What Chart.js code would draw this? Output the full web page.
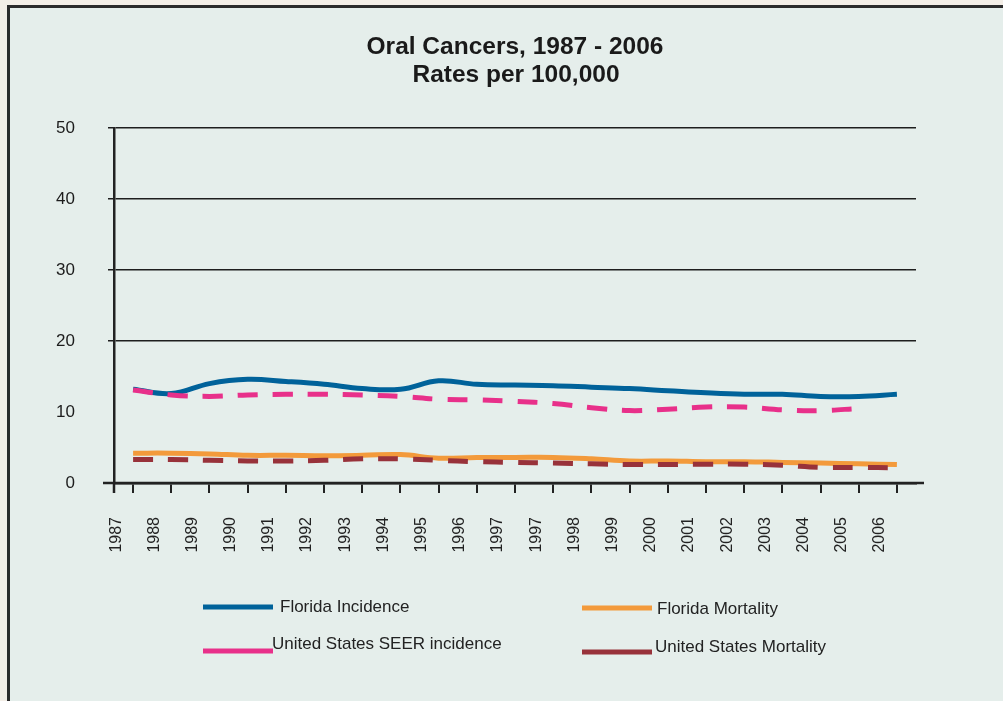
<!DOCTYPE html>
<html>
<head>
<meta charset="utf-8">
<script src="https://cdn.jsdelivr.net/npm/chart.js@4.4.1/dist/chart.umd.min.js"></script>
<style>
  html, body { margin: 0; padding: 0; width: 1003px; height: 701px; overflow: hidden; background: #f3eee7; }
  #frame { position: absolute; left: 7px; top: 5px; width: 1010px; height: 710px; background: #e5eeeb; border-left: 3px solid #2b2b2b; border-top: 3px solid #2b2b2b; }
  #wrap { position: absolute; left: 0; top: 0; width: 1003px; height: 701px; }
</style>
</head>
<body>
<div id="frame"></div>
<div id="wrap"><canvas id="oralChart" width="1003" height="701"></canvas></div>
<script>
// labels as printed on the chart (1997 appears twice)
const years = ['1987', '1988', '1989', '1990', '1991', '1992', '1993', '1994', '1995', '1996',
               '1997', '1997', '1998', '1999', '2000', '2001', '2002', '2003', '2004', '2005', '2006'];

const floridaIncidence = [13.2, 12.6, 14.0, 14.6, 14.3, 13.9, 13.3, 13.2, 14.4, 13.9,
                          13.8, 13.7, 13.5, 13.3, 13.0, 12.7, 12.5, 12.5, 12.2, 12.2, 12.5];
const seerIncidence    = [13.1, 12.4, 12.2, 12.4, 12.5, 12.5, 12.4, 12.2, 11.8, 11.7,
                          11.5, 11.2, 10.6, 10.2, 10.4, 10.7, 10.7, 10.3, 10.2, 10.5, null];
const floridaMortality = [4.2, 4.2, 4.1, 3.9, 3.9, 3.85, 3.9, 4.0, 3.5, 3.6,
                          3.6, 3.6, 3.4, 3.1, 3.1, 3.0, 3.0, 2.9, 2.8, 2.7, 2.6];
const usMortality      = [3.3, 3.3, 3.2, 3.1, 3.1, 3.2, 3.4, 3.4, 3.2, 3.0,
                          2.9, 2.8, 2.7, 2.6, 2.6, 2.65, 2.65, 2.5, 2.2, 2.2, 2.15];

const yMin = 0, yMax = 50, yStep = 10;
const titleLines = ['Oral Cancers, 1987 - 2006', 'Rates per 100,000'];
const legendOrder = ['Florida Incidence', 'Florida Mortality', 'United States SEER incidence', 'United States Mortality'];

Chart.defaults.font.family = "'Liberation Sans', Arial, sans-serif";

// title drawn over the whole frame, not just the plot
const titlePlugin = {
    id: 'frameTitle',
    afterDraw(chart) {
        const ctx = chart.ctx;
        ctx.save();
        ctx.font = "bold 24.5px 'Liberation Sans', Arial, sans-serif";
        ctx.fillStyle = '#1a1a1a';
        ctx.textAlign = 'center';
        ctx.textBaseline = 'middle';
        ctx.fillText(titleLines[0], 515, 47);
        ctx.fillText(titleLines[1], 516, 75);
        ctx.restore();
    }
};

// the original axis line runs a bit past the plot on both ends
const axisStubPlugin = {
    id: 'axisStubs',
    afterDraw(chart) {
        const ctx = chart.ctx;
        const a = chart.chartArea;
        ctx.save();
        ctx.strokeStyle = '#222';
        ctx.lineWidth = 2.5;
        ctx.beginPath();
        ctx.moveTo(a.left - 11, a.bottom);
        ctx.lineTo(a.right + 8, a.bottom);
        ctx.moveTo(a.left, a.bottom);
        ctx.lineTo(a.left, a.bottom + 10);
        ctx.stroke();
        ctx.restore();
    }
};

// two-by-two legend below the axis
const legendPlugin = {
    id: 'gridLegend',
    afterDraw(chart) {
        const ctx = chart.ctx;
        const spots = [
            { x: 203, y: 607, tx: 280, ty: 607 },
            { x: 582, y: 608, tx: 657, ty: 609 },
            { x: 203, y: 651, tx: 272, ty: 644 },
            { x: 582, y: 652, tx: 655, ty: 647 }
        ];
        ctx.save();
        ctx.font = "17px 'Liberation Sans', Arial, sans-serif";
        ctx.textBaseline = 'middle';
        ctx.textAlign = 'left';
        legendOrder.forEach((name, i) => {
            const ds = chart.data.datasets.find(d => d.label === name);
            const s = spots[i];
            ctx.strokeStyle = ds.borderColor;
            ctx.lineWidth = 5;
            ctx.setLineDash([]);
            ctx.beginPath();
            ctx.moveTo(s.x, s.y);
            ctx.lineTo(s.x + 70, s.y);
            ctx.stroke();
            ctx.fillStyle = '#222';
            ctx.fillText(name, s.tx, s.ty);
        });
        ctx.restore();
    }
};

const ctx = document.getElementById('oralChart').getContext('2d');

new Chart(ctx, {
    type: 'line',
    data: {
        labels: years,
        datasets: [{
            label: 'United States SEER incidence',
            data: seerIncidence,
            borderColor: '#e8308a',
            borderWidth: 5,
            borderDash: [20, 15],
            borderCapStyle: 'butt'
        }, {
            label: 'United States Mortality',
            data: usMortality,
            borderColor: '#98323a',
            borderWidth: 5,
            borderDash: [20, 15],
            borderCapStyle: 'butt'
        }, {
            label: 'Florida Incidence',
            data: floridaIncidence,
            borderColor: '#00629a',
            borderWidth: 5
        }, {
            label: 'Florida Mortality',
            data: floridaMortality,
            borderColor: '#f39a3b',
            borderWidth: 5
        }]
    },
    options: {
        responsive: false,
        animation: false,
        devicePixelRatio: 1,
        elements: {
            line: { tension: 0.4, fill: false },
            point: { radius: 0, hoverRadius: 0 }
        },
        layout: {
            padding: { top: 128, right: 87, bottom: 0, left: 0 }
        },
        plugins: {
            legend: { display: false },
            title: { display: false },
            tooltip: { enabled: false }
        },
        scales: {
            x: {
                offset: true,
                grid: {
                    drawOnChartArea: false,
                    drawTicks: true,
                    tickLength: 10,
                    color: '#222',
                    lineWidth: 2,
                    offset: false
                },
                border: { color: '#222', width: 2.5 },
                ticks: {
                    autoSkip: false,
                    minRotation: 90,
                    maxRotation: 90,
                    labelOffset: -17,
                    padding: 24,
                    color: '#222',
                    font: { size: 16 }
                },
                afterFit: (scale) => { scale.height = 218; }
            },
            y: {
                min: yMin,
                max: yMax,
                ticks: {
                    stepSize: yStep,
                    padding: 33,
                    color: '#1c1c1c',
                    font: { size: 17 }
                },
                grid: {
                    // the original has no rule at 10
                    color: (c) => (c.tick && c.tick.value === 10) ? 'rgba(0,0,0,0)' : '#1e1e1e',
                    lineWidth: 1.5,
                    tickLength: 6
                },
                border: { color: '#222', width: 2.5 },
                afterFit: (scale) => { scale.width = 114; }
            }
        }
    },
    plugins: [titlePlugin, axisStubPlugin, legendPlugin]
});
</script>
</body>
</html>
